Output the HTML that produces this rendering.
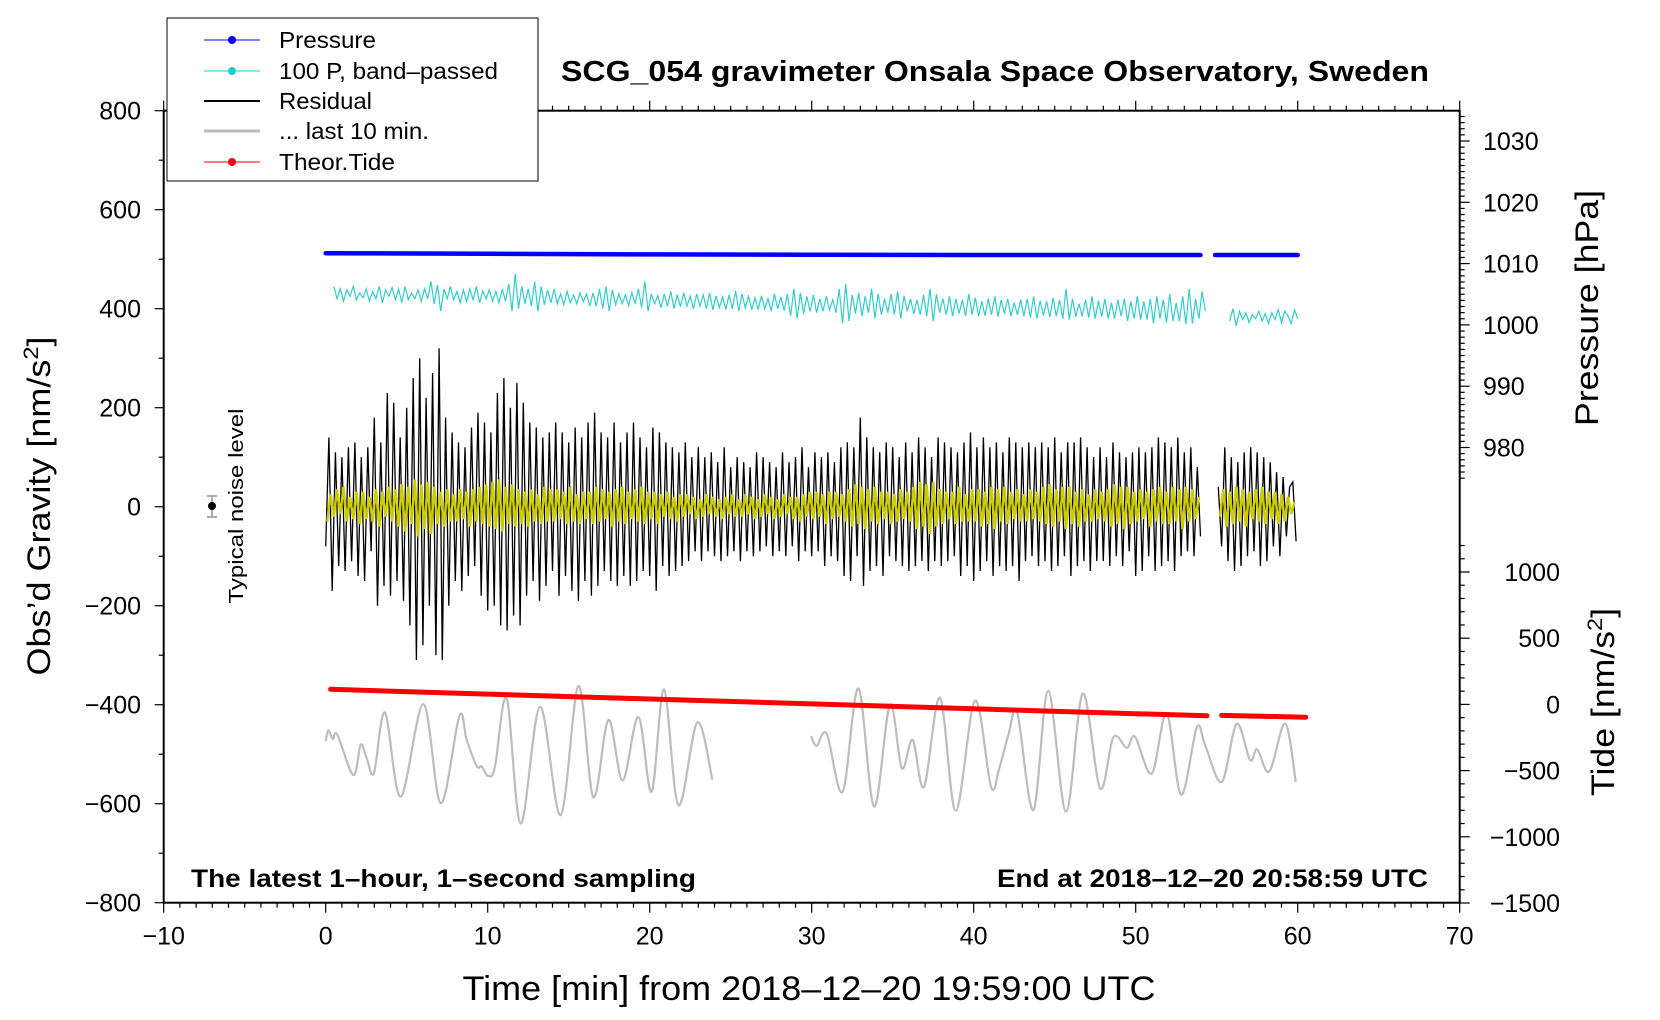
<!DOCTYPE html>
<html><head><meta charset="utf-8"><style>
html,body{margin:0;padding:0;background:#fff;}
svg{display:block;font-family:"Liberation Sans",sans-serif;}
</style></head><body>
<svg id="chart" width="1660" height="1020" viewBox="0 0 1660 1020" xmlns="http://www.w3.org/2000/svg">
<rect x="0" y="0" width="1660" height="1020" fill="#fff"/>
<g id="marks"></g>
<g id="axes"></g>
<text x="995" y="81" text-anchor="middle" font-weight="bold" font-size="29" textLength="868" lengthAdjust="spacingAndGlyphs">SCG_054 gravimeter Onsala Space Observatory, Sweden</text>
<text x="191" y="887" font-weight="bold" font-size="25" textLength="505" lengthAdjust="spacingAndGlyphs">The latest 1–hour, 1–second sampling</text>
<text x="1428" y="887" text-anchor="end" font-weight="bold" font-size="25" textLength="431" lengthAdjust="spacingAndGlyphs">End at 2018–12–20 20:58:59 UTC</text>
<text x="809" y="1000" text-anchor="middle" font-size="34" textLength="693" lengthAdjust="spacingAndGlyphs">Time [min] from 2018–12–20 19:59:00 UTC</text>
<text transform="translate(50,506) rotate(-90)" text-anchor="middle" font-size="32" textLength="339" lengthAdjust="spacingAndGlyphs">Obs’d Gravity [nm/s<tspan font-size="21" dy="-12">2</tspan><tspan dy="12">]</tspan></text>
<text transform="translate(1598,308) rotate(-90)" text-anchor="middle" font-size="32" textLength="236" lengthAdjust="spacingAndGlyphs">Pressure [hPa]</text>
<text transform="translate(1614,702) rotate(-90)" text-anchor="middle" font-size="32" textLength="188" lengthAdjust="spacingAndGlyphs">Tide [nm/s<tspan font-size="21" dy="-12">2</tspan><tspan dy="12">]</tspan></text>
<text transform="translate(243,506) rotate(-90)" text-anchor="middle" font-size="20" textLength="195" lengthAdjust="spacingAndGlyphs">Typical noise level</text>
<g>
<line x1="212" y1="496" x2="212" y2="517" stroke="#aaa" stroke-width="2"/>
<line x1="207" y1="496" x2="217" y2="496" stroke="#aaa" stroke-width="2"/>
<line x1="207" y1="517" x2="217" y2="517" stroke="#aaa" stroke-width="2"/>
<circle cx="212" cy="506" r="4" fill="#000"/>
</g>
<g>
<rect x="167" y="18" width="371" height="163" fill="#fff" stroke="#000" stroke-width="1"/>
<g><line x1="204" y1="40" x2="260" y2="40" stroke="#00f" stroke-width="1"/><circle cx="232" cy="40" r="4" fill="#00f"/><text x="279" y="48" font-size="23" textLength="97" lengthAdjust="spacingAndGlyphs">Pressure</text></g>
<g><line x1="204" y1="71" x2="260" y2="71" stroke="#2cc" stroke-width="1"/><circle cx="232" cy="71" r="4" fill="#2cc"/><text x="279" y="79" font-size="23" textLength="219" lengthAdjust="spacingAndGlyphs">100 P, band–passed</text></g>
<g><line x1="204" y1="101" x2="260" y2="101" stroke="#000" stroke-width="2"/><text x="279" y="109" font-size="23" textLength="93" lengthAdjust="spacingAndGlyphs">Residual</text></g>
<g><line x1="204" y1="131" x2="260" y2="131" stroke="#bbb" stroke-width="3"/><text x="279" y="139" font-size="23" textLength="150" lengthAdjust="spacingAndGlyphs">... last 10 min.</text></g>
<g><line x1="204" y1="162" x2="260" y2="162" stroke="#f00" stroke-width="1"/><circle cx="232" cy="162" r="4" fill="#f00"/><text x="279" y="170" font-size="23" textLength="116" lengthAdjust="spacingAndGlyphs">Theor.Tide</text></g>
</g>
</svg>
<script>
// ---- data ----
const xTicks = [-10,0,10,20,30,40,50,60,70];
const yTicks = [800,600,400,200,0,-200,-400,-600,-800];
const pressureTicks = [1030,1020,1010,1000,990,980];
const tideTicks = [1000,500,0,-500,-1000,-1500];

const pressureT1 = [0,10,20,30,40,50,54.0];
const pressureV1 = [1011.7,1011.6,1011.5,1011.45,1011.4,1011.4,1011.4];
const pressureT2 = [54.9,60.0];
const pressureV2 = [1011.4,1011.4];

const tideT1 = [0.3,10,20,30,40,50,54.4];
const tideV1 = [114,78,41,4,-33,-70,-86];
const tideT2 = [55.3,60.5];
const tideV2 = [-83,-97];

// residual, dt=0.2 min starting 0
const residual1 = [
-80,140,-170,110,-120,100,-130,120,-110,130,
-140,100,-150,120,-90,180,-200,130,-160,230,
-180,210,-150,140,-190,200,-240,260,-310,300,
-280,220,-200,270,-300,320,-310,180,-200,150,
-150,130,-170,120,-140,160,-120,190,-180,170,
-210,150,-200,230,-240,260,-250,200,-220,250,
-240,210,-180,170,-150,160,-190,140,-160,150,
-130,170,-180,150,-140,130,-170,160,-190,140,
-150,170,-180,190,-160,150,-130,140,-150,170,
-160,130,-140,150,-160,170,-150,140,-130,120,
-140,160,-170,150,-120,130,-140,120,-130,110,
-120,130,-110,100,-90,120,-110,100,-90,110,
-100,90,-110,120,-100,80,-90,100,-110,90,
-90,80,-100,110,-90,100,-80,90,-100,80,
-90,110,-100,90,-80,100,-110,120,-90,80,
-100,110,-90,100,-120,110,-100,90,-110,120,
-140,130,-150,120,-100,180,-160,140,-130,120,
-120,110,-140,130,-100,120,-110,100,-120,130,
-130,110,-120,140,-110,120,-130,100,-110,140,
-120,130,-110,120,-100,110,-140,130,-120,150,
-150,120,-130,140,-110,120,-140,130,-120,110,
-130,140,-120,130,-150,120,-110,130,-100,120,
-120,130,-110,120,-130,140,-120,110,-100,130,
-140,130,-120,140,-110,120,-130,100,-110,120,
-110,100,-120,130,-100,110,-120,100,-90,110,
-140,120,-130,110,-100,120,-130,140,-120,130,
-110,120,-130,140,-100,110,-90,120,-100,80,
-60];
const residual2 = [40,-80,120,-110,100,-130,90,-120,110,-100,120,-90,110,-120,100,-110,90,-80,70,-100,60,-60,40,50,-70];

// band-limited residual (yellow), dt=0.2 starting 0.1
const smooth1 = [
-30,25,-20,35,-15,40,-30,20,-25,30,
-35,30,-25,20,-30,35,-40,30,-20,40,
-30,35,-40,45,-50,40,-35,55,-60,45,
-45,50,-55,40,-35,30,-40,35,-30,25,
-30,35,-25,30,-40,35,-30,40,-35,45,
-40,50,-45,55,-50,40,-35,45,-40,35,
-35,30,-40,35,-30,25,-35,40,-30,35,
-30,35,-25,30,-35,40,-30,25,-35,30,
-25,30,-35,40,-30,35,-25,30,-40,35,
-30,40,-35,30,-25,35,-30,40,-35,30,
-25,30,-35,25,-20,30,-25,20,-30,25,
-20,25,-15,20,-25,15,-20,25,-15,20,
-20,15,-25,20,-15,25,-20,15,-20,25,
-15,20,-25,15,-20,25,-15,20,-25,15,
-20,25,-15,20,-25,20,-30,25,-20,30,
-25,30,-20,25,-35,30,-25,30,-20,25,
-30,35,-40,45,-35,40,-45,35,-30,40,
-35,30,-25,30,-35,25,-30,35,-25,30,
-30,40,-45,50,-40,45,-55,50,-40,35,
-35,30,-25,30,-35,40,-30,25,-30,35,
-30,35,-40,30,-35,40,-45,35,-30,40,
-35,30,-25,35,-30,25,-30,35,-25,30,
-30,40,-35,45,-40,35,-30,40,-45,40,
-35,30,-40,35,-30,25,-30,35,-25,30,
-30,35,-40,45,-35,40,-45,40,-35,30,
-30,35,-25,30,-40,35,-30,40,-35,30,
-35,40,-30,35,-45,40,-30,35,-25,20];
const smooth2 = [-20,35,-40,30,-35,40,-30,35,-40,30,-25,35,-30,40,-35,30,-25,30,-35,25,-30,20,-15,10];

// 100 P band-passed (cyan), dt=0.2 starting 0.5
const cyan1 = [
445,420,440,415,438,425,445,418,432,422,
440,415,435,420,445,412,438,425,443,418,
440,412,445,418,432,420,438,415,440,420,
455,410,448,395,440,420,445,418,435,412,
438,415,440,418,445,412,436,420,438,415,
435,412,440,415,450,395,470,400,445,410,
440,405,455,395,445,408,438,412,440,410,
430,408,435,412,428,410,432,414,430,405,
432,405,440,400,445,395,438,408,430,410,
428,406,432,410,440,402,455,395,430,410,
426,402,430,405,435,400,428,404,432,405,
425,400,430,405,428,400,432,398,426,402,
424,398,428,400,436,395,430,402,425,398,
422,398,426,400,420,395,430,400,424,396,
430,385,440,380,432,390,425,395,428,392,
420,395,425,398,418,392,440,370,450,375,
428,390,432,385,425,392,440,380,430,388,
420,392,430,388,435,380,426,395,420,390,
418,388,428,385,440,375,430,392,420,388,
425,385,420,390,418,385,430,388,422,385,
415,386,420,388,425,384,418,390,420,385,
412,388,418,385,420,382,425,380,416,386,
415,383,422,385,418,380,440,378,420,384,
410,385,418,382,425,380,416,384,420,380,
412,380,418,385,420,375,415,380,425,378,
415,378,420,370,425,380,418,372,430,375,
412,375,425,368,440,370,420,380,435,395];
const cyan2 = [375,400,365,395,378,392,372,388,380,395,375,390,370,392,378,398,372,395,385,370,398,380];

// last 10 min (gray), extrema in [min, nm/s2 plot units]
const grayT1 = [0,0.16,0.43,0.72,1.7,2.16,2.53,2.98,3.66,4.63,6.03,7.1,8.25,8.7,9.32,9.63,10.04,10.45,11.17,12.04,13.23,14.5,15.6,16.52,17.45,18.33,19.3,20.12,20.88,21.77,22.94,23.87];
const grayV1 = [-474,-452,-469,-461,-542,-481,-508,-538,-416,-586,-399,-599,-423,-471,-524,-525,-544,-525,-387,-640,-404,-623,-362,-587,-431,-553,-425,-576,-369,-603,-436,-552];
const grayT2 = [29.96,30.3,30.93,31.91,32.88,33.85,34.83,35.56,36.23,36.93,37.92,38.89,40.08,41.07,41.58,42.14,42.69,43.68,44.6,45.7,46.73,47.8,48.62,49.45,49.96,50.99,51.91,52.8,53.77,54.28,55.31,56.23,57.06,57.5,58.25,59.22,59.88];
const grayV2 = [-463,-483,-459,-576,-367,-606,-400,-528,-471,-566,-386,-614,-392,-566,-528,-461,-417,-613,-372,-616,-378,-569,-466,-487,-465,-539,-417,-582,-446,-481,-556,-439,-512,-490,-535,-438,-556];

// ---- scales ----
const X = t => 325.7 + 16.2*t;
const Y = v => 506.7 - 0.495*v;
const P = h => 141 + (1030-h)*6.13;
const T = n => 704.4 - 0.1324*n;
const NS = 'http://www.w3.org/2000/svg';
const marks = document.getElementById('marks');
const axes = document.getElementById('axes');
function mk(tag, attrs, parent){ const e=document.createElementNS(NS,tag); for(const k in attrs) e.setAttribute(k,attrs[k]); parent.appendChild(e); return e; }
function poly(ts, vs, fy){ return ts.map((t,i)=>X(t).toFixed(1)+','+fy(vs[i]).toFixed(1)).join(' '); }
function gridT(n, t0){ const a=[]; for(let i=0;i<n;i++) a.push(t0+0.2*i); return a; }
function smoothPath(ts, vs){
  const p = ts.map((t,i)=>[X(t),Y(vs[i])]);
  let d='M'+p[0][0].toFixed(1)+','+p[0][1].toFixed(1);
  for(let i=0;i<p.length-1;i++){
    const p0=p[Math.max(0,i-1)], p1=p[i], p2=p[i+1], p3=p[Math.min(p.length-1,i+2)];
    const c1=[p1[0]+(p2[0]-p0[0])/6, p1[1]+(p2[1]-p0[1])/6];
    const c2=[p2[0]-(p3[0]-p1[0])/6, p2[1]-(p3[1]-p1[1])/6];
    d+=' C'+c1[0].toFixed(1)+','+c1[1].toFixed(1)+' '+c2[0].toFixed(1)+','+c2[1].toFixed(1)+' '+p2[0].toFixed(1)+','+p2[1].toFixed(1);
  }
  return d;
}

let e;
e = mk('path',{d:smoothPath(grayT1,grayV1),fill:'none',stroke:'#bdbdbd','stroke-width':2.2},marks);


e = mk('path',{d:smoothPath(grayT2,grayV2),fill:'none',stroke:'#bdbdbd','stroke-width':2.2},marks);



e = mk('polyline',{points:poly(gridT(residual1.length,0),residual1,Y),fill:'none',stroke:'#000','stroke-width':1.3},marks);


e = mk('polyline',{points:poly(gridT(residual2.length,55.1),residual2,Y),fill:'none',stroke:'#000','stroke-width':1.3},marks);


e = mk('polyline',{points:poly(gridT(smooth1.length,0.1),smooth1,Y),fill:'none',stroke:'#cccc00','stroke-width':2.5},marks);


e = mk('polyline',{points:poly(gridT(smooth2.length,55.2),smooth2,Y),fill:'none',stroke:'#cccc00','stroke-width':2.5},marks);


e = mk('polyline',{points:poly(gridT(cyan1.length,0.5),cyan1,Y),fill:'none',stroke:'#33cccc','stroke-width':1.2},marks);


e = mk('polyline',{points:poly(gridT(cyan2.length,55.8),cyan2,Y),fill:'none',stroke:'#33cccc','stroke-width':1.2},marks);


e = mk('polyline',{points:poly(pressureT1,pressureV1,P),fill:'none',stroke:'#00f','stroke-width':4.5,'stroke-linecap':'round'},marks);


e = mk('polyline',{points:poly(pressureT2,pressureV2,P),fill:'none',stroke:'#00f','stroke-width':4.5,'stroke-linecap':'round'},marks);


e = mk('polyline',{points:poly(tideT1,tideV1,T),fill:'none',stroke:'#f00','stroke-width':5,'stroke-linecap':'round'},marks);


e = mk('polyline',{points:poly(tideT2,tideV2,T),fill:'none',stroke:'#f00','stroke-width':5,'stroke-linecap':'round'},marks);



// ---- axes ----
const L=X(-10), R=X(70), TOP=Y(800), BOT=Y(-800);
e = mk('rect',{x:L,y:TOP,width:R-L,height:BOT-TOP,fill:'none',stroke:'#000','stroke-width':2},axes);


for(let m=-10;m<=70;m++){
  const big = m%10===0;
  mk('line',{x1:X(m),x2:X(m),y1:BOT,y2:BOT+(big?10:5),stroke:'#000','stroke-width':1.2},axes);
  mk('line',{x1:X(m),x2:X(m),y1:TOP,y2:TOP-(big?10:5),stroke:'#000','stroke-width':1.2},axes);
}
xTicks.forEach(t=>{
  e = mk('text',{x:X(t),y:BOT+42,'text-anchor':'middle','font-size':25},axes);
  e.textContent = String(t).replace('-','−');
  
  
});
for(let v=-800;v<=800;v+=100){
  mk('line',{x1:L,x2:L-(v%200===0?9:5),y1:Y(v),y2:Y(v),stroke:'#000','stroke-width':1.2},axes);
}
yTicks.forEach(v=>{
  e = mk('text',{x:141,y:Y(v)+9,'text-anchor':'end','font-size':25},axes);
  e.textContent = String(v).replace('-','−');
  
  
});
for(let h=1034;h>=975;h--){
  mk('line',{x1:R,x2:R+(h%10===0?10:5),y1:P(h),y2:P(h),stroke:'#000','stroke-width':1.2},axes);
}
pressureTicks.forEach(h=>{
  e = mk('text',{x:1483,y:P(h)+9,'font-size':25},axes);
  e.textContent = String(h);
  
  
});
for(let n=1200;n>=-1500;n-=100){
  mk('line',{x1:R,x2:R+(n%500===0?10:5),y1:T(n),y2:T(n),stroke:'#000','stroke-width':1.2},axes);
}
tideTicks.forEach(n=>{
  e = mk('text',{x:1560,y:T(n)+9,'text-anchor':'end','font-size':25},axes);
  e.textContent = String(n).replace('-','−');
  
  
});
</script>
</body></html>
